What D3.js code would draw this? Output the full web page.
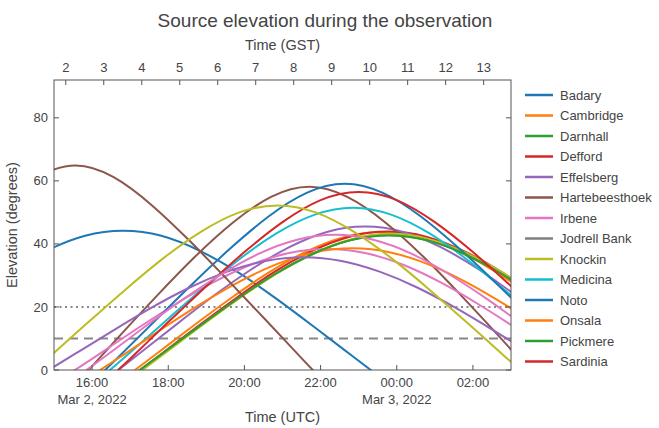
<!DOCTYPE html>
<html lang="en">
<head>
<meta charset="UTF-8">
<title>Source elevation during the observation</title>
<script src="https://d3js.org/d3.v7.min.js"></script>
<style>
  body { margin: 0; background: #fff; }
  svg text { fill: #444; font-family: "Liberation Sans", Arial, sans-serif; }
</style>
</head>
<body>
<svg id="chart"></svg>
<script>
// hours from the source transit at each station
const transitOffsets = [-7, -6, -5, -4, -3, -2, -1, 0, 1, 2, 3, 4, 5, 6, 7];

// elevation (degrees) at those offsets
const badary         = [-4.6, 4.6, 13.8, 22.8, 31.1, 37.9, 42.6, 44.2, 42.6, 37.9, 31.1, 22.8, 13.8, 4.6, -4.6];
const cambridge      = [-4.5, 4.6, 13.8, 22.7, 30.9, 37.6, 42.2, 43.8, 42.2, 37.6, 30.9, 22.7, 13.8, 4.6, -4.5];
const darnhall       = [-4.2, 4.7, 13.6, 22.3, 30.3, 36.8, 41.2, 42.8, 41.2, 36.8, 30.3, 22.3, 13.6, 4.7, -4.2];
const defford        = [-4.5, 4.6, 13.8, 22.7, 31.0, 37.7, 42.3, 43.9, 42.3, 37.7, 31.0, 22.7, 13.8, 4.6, -4.5];
const effelsberg     = [-4.9, 4.5, 14.0, 23.3, 31.8, 38.9, 43.8, 45.5, 43.8, 38.9, 31.8, 23.3, 14.0, 4.5, -4.9];
const hartebeesthoek = [-16.3, -2.8, 10.5, 23.5, 35.9, 46.8, 54.9, 58.1, 54.9, 46.8, 35.9, 23.5, 10.5, -2.8, -16.3];
const irbene         = [-3.0, 4.9, 13.0, 20.7, 27.7, 33.4, 37.1, 38.4, 37.1, 33.4, 27.7, 20.7, 13.0, 4.9, -3.0];
const jodrellBank    = [-4.2, 4.7, 13.6, 22.3, 30.3, 36.8, 41.2, 42.8, 41.2, 36.8, 30.3, 22.3, 13.6, 4.7, -4.2];
const knockin        = [-4.4, 4.6, 13.7, 22.5, 30.5, 37.1, 41.6, 43.2, 41.6, 37.1, 30.5, 22.5, 13.7, 4.6, -4.4];
const medicina       = [-6.5, 4.0, 14.7, 25.2, 35.0, 43.4, 49.3, 51.5, 49.3, 43.4, 35.0, 25.2, 14.7, 4.0, -6.5];
const noto           = [-8.4, 3.4, 15.4, 27.3, 38.6, 48.7, 56.2, 59.1, 56.2, 48.7, 38.6, 27.3, 15.4, 3.4, -8.4];
const onsala         = [-3.0, 4.9, 13.0, 20.8, 27.8, 33.5, 37.3, 38.6, 37.3, 33.5, 27.8, 20.8, 13.0, 4.9, -3.0];
const pickmere       = [-4.2, 4.7, 13.6, 22.3, 30.3, 36.8, 41.2, 42.7, 41.2, 36.8, 30.3, 22.3, 13.6, 4.7, -4.2];
const sardinia       = [-7.8, 3.6, 15.2, 26.6, 37.4, 46.9, 53.9, 56.5, 53.9, 46.9, 37.4, 26.6, 15.2, 3.6, -7.8];
// further stations drawn in the plot, past the end of the visible legend
const metsahovi      = [-2.3, 5.1, 12.5, 19.7, 26.1, 31.2, 34.6, 35.8, 34.6, 31.2, 26.1, 19.7, 12.5, 5.1, -2.3];
const tianma         = [-9.8, 2.9, 15.8, 28.5, 40.9, 52.3, 61.2, 64.9, 61.2, 52.3, 40.9, 28.5, 15.8, 2.9, -9.8];
const torun          = [-4.2, 4.7, 13.7, 22.4, 30.3, 36.9, 41.3, 42.9, 41.3, 36.9, 30.3, 22.4, 13.7, 4.7, -4.2];
const zelenchukskaya = [-6.7, 4.0, 14.8, 25.4, 35.4, 43.9, 50.0, 52.2, 50.0, 43.9, 35.4, 25.4, 14.8, 4.0, -6.7];

const stationNames = ["Badary", "Cambridge", "Darnhall", "Defford", "Effelsberg", "Hartebeesthoek",
  "Irbene", "Jodrell Bank", "Knockin", "Medicina", "Noto", "Onsala", "Pickmere", "Sardinia",
  "Metsahovi", "Tianma", "Torun", "Zelenchukskaya"];
const stationElev = [badary, cambridge, darnhall, defford, effelsberg, hartebeesthoek,
  irbene, jodrellBank, knockin, medicina, noto, onsala, pickmere, sardinia,
  metsahovi, tianma, torun, zelenchukskaya];
// index into the category10 colour cycle
const colorIndex = [0, 1, 2, 3, 4, 5, 6, 7, 8, 9, 0, 1, 2, 3, 4, 5, 6, 8];
// UTC time of transit for each station
const transitTimes = ["2022-03-02T16:49Z", "2022-03-02T23:38Z", "2022-03-02T23:48Z", "2022-03-02T23:46Z",
  "2022-03-02T23:10Z", "2022-03-02T21:42Z", "2022-03-02T22:10Z", "2022-03-02T23:47Z",
  "2022-03-02T23:50Z", "2022-03-02T22:51Z", "2022-03-02T22:38Z", "2022-03-02T22:50Z",
  "2022-03-02T23:47Z", "2022-03-02T23:00Z", "2022-03-02T21:33Z", "2022-03-02T15:34Z",
  "2022-03-02T22:23Z", "2022-03-02T20:52Z"];
const legendCount = 14;

const timeRange = ["2022-03-02T15:00Z", "2022-03-03T03:00Z"];
const gstRange = [1.69, 13.72];
const gstTicks = [2, 3, 4, 5, 6, 7, 8, 9, 10, 11, 12, 13];
const elevTicks = [0, 20, 40, 60, 80];
const elevMax = 92;
const limitLines = [20, 10];

const W = 659, H = 428;
const m = {left: 54, right: 511, top: 80, bottom: 370};
const palette = d3.schemeCategory10;

const svg = d3.select("#chart").attr("width", W).attr("height", H);

const x = d3.scaleUtc().domain(timeRange.map(d => new Date(d))).range([m.left, m.right]);
const xg = d3.scaleLinear().domain(gstRange).range([m.left, m.right]);
const y = d3.scaleLinear().domain([0, elevMax]).range([m.bottom, m.top]);

svg.append("defs").append("clipPath").attr("id", "plot")
  .append("rect").attr("x", m.left).attr("y", m.top)
  .attr("width", m.right - m.left).attr("height", m.bottom - m.top);

// limit lines
svg.append("g").selectAll("line").data(limitLines).join("line")
  .attr("x1", m.left).attr("x2", m.right)
  .attr("y1", d => y(d)).attr("y2", d => y(d))
  .attr("stroke", "#888").attr("stroke-width", 2)
  .attr("stroke-dasharray", (d, i) => i === 0 ? "2,3.5" : "9,6");

// curves
const line = d3.line().curve(d3.curveNatural)
  .x(d => x(d[0])).y(d => y(d[1]));

const series = stationNames.map((name, i) => {
  const t0 = new Date(transitTimes[i]);
  return {
    name, color: palette[colorIndex[i]],
    pts: transitOffsets.map((k, j) => [new Date(+t0 + k * 3600e3), stationElev[i][j]])
  };
});

svg.append("g").attr("clip-path", "url(#plot)")
  .selectAll("path").data(series).join("path")
  .attr("fill", "none").attr("stroke", d => d.color).attr("stroke-width", 2)
  .attr("d", d => line(d.pts));

// frame
svg.append("rect").attr("x", m.left).attr("y", m.top)
  .attr("width", m.right - m.left).attr("height", m.bottom - m.top)
  .attr("fill", "none").attr("stroke", "#555").attr("stroke-width", 1);

const tickLen = 5;
const axisFont = "13px";

// bottom axis (UTC)
const utcTicks = x.ticks(d3.utcHour.every(2));
const bx = svg.append("g");
bx.selectAll("line").data(utcTicks).join("line")
  .attr("x1", d => x(d)).attr("x2", d => x(d))
  .attr("y1", m.bottom).attr("y2", m.bottom - tickLen)
  .attr("stroke", "#555");
bx.selectAll("text.t").data(utcTicks).join("text").attr("class", "t")
  .attr("x", d => x(d)).attr("y", m.bottom + 17)
  .attr("text-anchor", "middle").style("font-size", axisFont)
  .text(d3.utcFormat("%H:%M"));
bx.selectAll("text.d").data(utcTicks.filter((d, i) => i === 0 || d.getUTCHours() === 0)).join("text").attr("class", "d")
  .attr("x", d => x(d)).attr("y", m.bottom + 34)
  .attr("text-anchor", "middle").style("font-size", axisFont)
  .text(d3.utcFormat("%b %-d, %Y"));
svg.append("text").attr("x", (m.left + m.right) / 2).attr("y", H - 6)
  .attr("text-anchor", "middle").style("font-size", "14.5px").text("Time (UTC)");

// top axis (GST)
const tx = svg.append("g");
tx.selectAll("line").data(gstTicks).join("line")
  .attr("x1", d => xg(d)).attr("x2", d => xg(d))
  .attr("y1", m.top).attr("y2", m.top + tickLen)
  .attr("stroke", "#555");
tx.selectAll("text").data(gstTicks).join("text")
  .attr("x", d => xg(d)).attr("y", m.top - 8)
  .attr("text-anchor", "middle").style("font-size", axisFont)
  .text(d => d);
svg.append("text").attr("x", (m.left + m.right) / 2).attr("y", 50)
  .attr("text-anchor", "middle").style("font-size", "14.5px").text("Time (GST)");

// left / right axes
const ly = svg.append("g");
ly.selectAll("line.l").data(elevTicks).join("line").attr("class", "l")
  .attr("x1", m.left).attr("x2", m.left + tickLen)
  .attr("y1", d => y(d)).attr("y2", d => y(d)).attr("stroke", "#555");
ly.selectAll("line.r").data(elevTicks).join("line").attr("class", "r")
  .attr("x1", m.right).attr("x2", m.right - tickLen)
  .attr("y1", d => y(d)).attr("y2", d => y(d)).attr("stroke", "#555");
ly.selectAll("text").data(elevTicks).join("text")
  .attr("x", m.left - 6).attr("y", d => y(d)).attr("dy", "0.35em")
  .attr("text-anchor", "end").style("font-size", axisFont)
  .text(d => d);
svg.append("text")
  .attr("transform", `translate(17,${(m.top + m.bottom) / 2}) rotate(-90)`)
  .attr("text-anchor", "middle").style("font-size", "14.5px").text("Elevation (degrees)");

// title
svg.append("text").attr("x", 325).attr("y", 27)
  .attr("text-anchor", "middle").style("font-size", "19px")
  .text("Source elevation during the observation");

// legend
const lg = svg.append("g").attr("transform", "translate(525,95)");
const items = lg.selectAll("g").data(series.slice(0, legendCount)).join("g")
  .attr("transform", (d, i) => `translate(0,${i * 20.5})`);
items.append("line").attr("x1", 0).attr("x2", 28)
  .attr("stroke", d => d.color).attr("stroke-width", 2.5);
items.append("text").attr("x", 35).attr("dy", "0.35em")
  .style("font-size", axisFont).text(d => d.name);
</script>
</body>
</html>
